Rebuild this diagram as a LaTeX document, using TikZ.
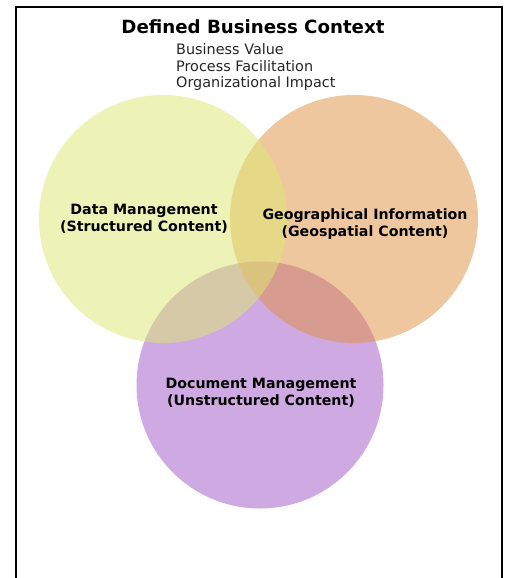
\documentclass[tikz,border=0pt]{standalone}
\usepackage{fontspec}
\setmainfont{DejaVu Sans}
\definecolor{cyel}{RGB}{221,233,113}
\definecolor{corg}{RGB}{223,145,63}
\definecolor{cpur}{RGB}{161,85,197}
\begin{document}
\begin{tikzpicture}[x=1pt,y=-1pt,
  blob/.style={fill opacity=0.5,draw=none},
  lbl/.style={font=\fontsize{14.2}{17.5}\selectfont\bfseries,align=center,text=black,inner sep=0pt},
  sub/.style={font=\fontsize{14.4}{17}\selectfont,text=black!85,anchor=west,inner sep=0pt}]
\useasboundingbox (0,0) rectangle (506,578);
\fill[white] (0,0) rectangle (506,578);
\draw[line width=2pt] (16,600) -- (16,7) -- (502,7) -- (502,600);
% circles: purple first, then orange, then yellow on top
\fill[blob,cpur] (260,385) circle[radius=123.5];
\fill[blob,corg] (354,219) circle[radius=124];
\fill[blob,cyel] (163,219) circle[radius=124];
\node[font=\fontsize{18.2}{22}\selectfont\bfseries,inner sep=0pt] (title) at (253,27) {Defined Business Context};
\node[sub] (s1) at (176,49) {Business Value};
\node[sub] (s2) at (176,66.5) {Process Facilitation};
\node[sub] (s3) at (176,84) {Organizational Impact};
\node[lbl] (dm) at (144,219) {Data Management\\(Structured Content)};
\node[lbl] (gi) at (365,224) {Geographical Information\\(Geospatial Content)};
\node[lbl] (doc) at (261,393) {Document Management\\(Unstructured Content)};
\end{tikzpicture}
\end{document}
